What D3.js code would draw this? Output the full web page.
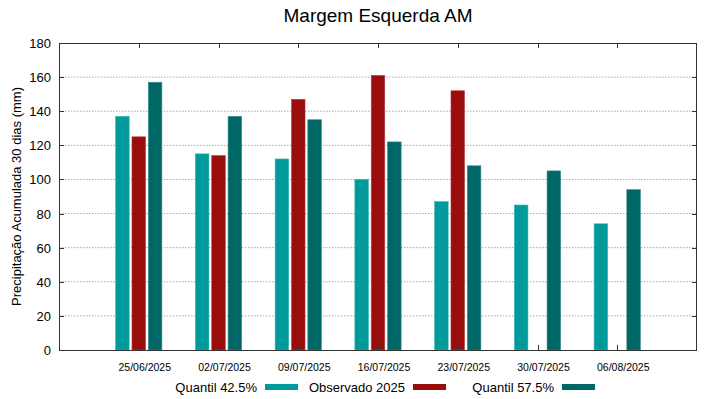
<!DOCTYPE html>
<html>
<head>
<meta charset="utf-8">
<script src="https://cdn.jsdelivr.net/npm/d3@7"></script>
<style>
  body { margin: 0; background: #fff; }
  text { font-family: "Liberation Sans", Arial, sans-serif; fill: #000; }
</style>
</head>
<body>
<div id="chart"></div>
<script>
// chart data
var dates = ['25/06/2025', '02/07/2025', '09/07/2025', '16/07/2025', '23/07/2025', '30/07/2025', '06/08/2025'];
var quantil425 = [137, 115, 112, 100, 87, 85, 74];
var observado2025 = [125, 114, 147, 161, 152, null, null];
var quantil575 = [157, 137, 135, 122, 108, 105, 94];
var yTicks = [0, 20, 40, 60, 80, 100, 120, 140, 160, 180];

var series = [
  {name: 'Quantil 42.5%', values: quantil425, color: '#009a9a', stroke: '#3bb3b3', offset: -0.205},
  {name: 'Observado 2025', values: observado2025, color: '#990d0d', stroke: '#b84444', offset: 0},
  {name: 'Quantil 57.5%', values: quantil575, color: '#006767', stroke: '#3a8a8a', offset: 0.205}
];

var width = 719, height = 399;
var margin = {left: 59, right: 22, top: 43, bottom: 49};

var svg = d3.select('#chart').append('svg')
  .attr('width', width)
  .attr('height', height);

var x = d3.scaleLinear().domain([-1, dates.length]).range([margin.left, width - margin.right]);
var y = d3.scaleLinear().domain([0, 180]).range([height - margin.bottom, margin.top]);
var barW = 0.17;

// grid
svg.append('g')
  .selectAll('line')
  .data(yTicks.filter(function (d) { return d > 0 && d < 180; }))
  .enter()
  .append('line')
  .attr('x1', margin.left)
  .attr('x2', width - margin.right)
  .attr('y1', function (d) { return y(d); })
  .attr('y2', function (d) { return y(d); })
  .style('stroke', '#a8a8a8')
  .style('stroke-width', 1)
  .style('stroke-dasharray', '1.5,1.5');

// bars
series.forEach(function (s) {
  svg.append('g')
    .selectAll('rect')
    .data(s.values.map(function (v, i) { return {v: v, i: i}; }).filter(function (d) { return d.v !== null; }))
    .enter()
    .append('rect')
    .attr('x', function (d) { return x(d.i + s.offset - barW / 2); })
    .attr('width', x(barW) - x(0))
    .attr('y', function (d) { return y(d.v); })
    .attr('height', function (d) { return y(0) - y(d.v); })
    .style('fill', s.color)
    .style('stroke', s.stroke)
    .style('stroke-width', 0.6);
});

// ticks (inside) and frame
var tickG = svg.append('g').style('stroke', '#333').style('stroke-width', 1);
yTicks.forEach(function (t) {
  tickG.append('line').attr('x1', margin.left).attr('x2', margin.left + 5)
    .attr('y1', Math.round(y(t)) + 0.5).attr('y2', Math.round(y(t)) + 0.5);
  tickG.append('line').attr('x1', width - margin.right).attr('x2', width - margin.right - 5)
    .attr('y1', Math.round(y(t)) + 0.5).attr('y2', Math.round(y(t)) + 0.5);
});
dates.forEach(function (d, i) {
  tickG.append('line').attr('x1', Math.round(x(i)) + 0.5).attr('x2', Math.round(x(i)) + 0.5)
    .attr('y1', y(0)).attr('y2', y(0) - 5);
  tickG.append('line').attr('x1', Math.round(x(i)) + 0.5).attr('x2', Math.round(x(i)) + 0.5)
    .attr('y1', y(180)).attr('y2', y(180) + 5);
});

svg.append('rect')
  .attr('x', margin.left + 0.5)
  .attr('y', margin.top + 0.5)
  .attr('width', width - margin.left - margin.right - 1)
  .attr('height', height - margin.top - margin.bottom)
  .style('fill', 'none')
  .style('stroke', '#333')
  .style('stroke-width', 1);

// y tick labels
svg.append('g')
  .selectAll('text')
  .data(yTicks)
  .enter()
  .append('text')
  .attr('x', margin.left - 8)
  .attr('y', function (d) { return y(d) + 5; })
  .attr('text-anchor', 'end')
  .style('font-size', '13px')
  .text(function (d) { return d; });

// x tick labels
svg.append('g')
  .selectAll('text')
  .data(dates)
  .enter()
  .append('text')
  .attr('x', function (d, i) { return x(i) + 6; })
  .attr('y', height - margin.bottom + 21)
  .attr('text-anchor', 'middle')
  .style('font-size', '10.5px')
  .text(function (d) { return d; });

// title
svg.append('text')
  .attr('x', (margin.left + width - margin.right) / 2)
  .attr('y', 22)
  .attr('text-anchor', 'middle')
  .style('font-size', '19px')
  .text('Margem Esquerda AM');

// y axis label
svg.append('text')
  .attr('transform', 'translate(21,' + ((margin.top + height - margin.bottom) / 2) + ') rotate(-90)')
  .attr('text-anchor', 'middle')
  .style('font-size', '13px')
  .text('Precipitação Acumulada 30 dias (mm)');

// legend
var legendEnds = [257, 405, 554];
series.forEach(function (s, i) {
  svg.append('text')
    .attr('x', legendEnds[i])
    .attr('y', 392)
    .attr('text-anchor', 'end')
    .style('font-size', '13px')
    .text(s.name);
  svg.append('rect')
    .attr('x', legendEnds[i] + 8)
    .attr('y', 384)
    .attr('width', 33)
    .attr('height', 6)
    .style('fill', s.color);
});
</script>
</body>
</html>
